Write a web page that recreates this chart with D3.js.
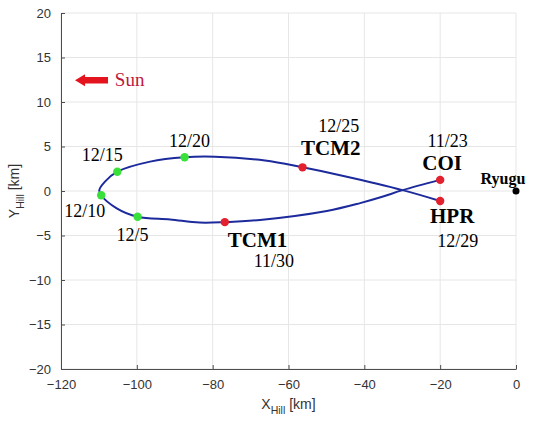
<!DOCTYPE html>
<html>
<head>
<meta charset="utf-8">
<script src="https://cdn.jsdelivr.net/npm/d3@7"></script>
<style>
  body { margin: 0; background: #fff; }
  .tick text { font-family: "Liberation Sans", Arial, sans-serif; font-size: 13px; fill: #333; }
  .ann { font-family: "Liberation Serif", "Times New Roman", serif; fill: #000; }
</style>
</head>
<body>
<svg id="chart"></svg>
<script>
// Trajectory in Hill frame (km), from COI around the loop to HPR
const trajX = [-20.0, -29.9, -35.5, -41.1, -49.9, -67.5, -76.8, -83.5, -91.2, -99.8, -105.3, -109.4, -109.9, -108.4, -105.15, -96.5, -87.4, -79.4, -66.2, -56.3, -45.5, -29.9, -20.0];
const trajY = [1.25, 0.1, -0.68, -1.36, -2.24, -3.25, -3.5, -3.55, -3.2, -2.9, -1.95, -0.48, 0.1, 1.05, 2.17, 3.3, 3.79, 3.85, 3.43, 2.66, 1.69, 0.1, -1.12];

// Maneuver points (red)
const manNames = ["COI", "TCM1", "TCM2", "HPR"];
const manDates = ["11/23", "11/30", "12/25", "12/29"];
const manX = [-20.0, -76.8, -56.3, -20.0];
const manY = [1.25, -3.5, 2.66, -1.12];

// Date markers (green)
const dayDates = ["12/5", "12/10", "12/15", "12/20"];
const dayX = [-99.8, -109.4, -105.15, -87.4];
const dayY = [-2.9, -0.48, 2.17, 3.79];

// Ryugu at origin
const ryuguX = 0, ryuguY = 0;

// Axis ticks
const xTicks = [-120, -100, -80, -60, -40, -20, 0];
const yTicks = [-20, -15, -10, -5, 0, 5, 10, 15, 20];

const W = 540, H = 430;
const margin = {top: 13, right: 24, bottom: 61, left: 61};
const width = W - margin.left - margin.right;
const height = H - margin.top - margin.bottom;

const svg = d3.select("#chart").attr("width", W).attr("height", H);
const g = svg.append("g").attr("transform", "translate(" + margin.left + "," + margin.top + ")");

const x = d3.scaleLinear().domain([-120, 0]).range([0, width]);
const y = d3.scaleLinear().domain([-20, 20]).range([height, 0]);

// Grid
g.append("g").selectAll("line").data(xTicks).enter().append("line")
  .attr("x1", d => x(d)).attr("x2", d => x(d))
  .attr("y1", 0).attr("y2", height)
  .attr("stroke", "#e6e6e6").attr("stroke-width", 1);
g.append("g").selectAll("line").data(yTicks).enter().append("line")
  .attr("x1", 0).attr("x2", width)
  .attr("y1", d => y(d)).attr("y2", d => y(d))
  .attr("stroke", "#e6e6e6").attr("stroke-width", 1);

// Axes (ticks pointing inward)
const xAxis = g.append("g")
  .attr("transform", "translate(0," + height + ")")
  .call(d3.axisBottom(x).tickValues(xTicks).tickSizeInner(-4).tickSizeOuter(0).tickPadding(11));
const yAxis = g.append("g")
  .call(d3.axisLeft(y).tickValues(yTicks).tickSizeInner(-4).tickSizeOuter(0).tickPadding(10));
[xAxis, yAxis].forEach(a => {
  a.select(".domain").attr("stroke", "#4d4d4d");
  a.selectAll(".tick line").attr("stroke", "#4d4d4d");
});

// Axis labels
const xl = svg.append("text")
  .attr("x", margin.left + width / 2).attr("y", 409)
  .attr("text-anchor", "middle")
  .attr("font-family", "Liberation Sans, Arial, sans-serif")
  .attr("font-size", 14).attr("fill", "#333");
xl.append("tspan").text("X");
xl.append("tspan").attr("font-size", 10.5).attr("dy", 5).text("Hill");
xl.append("tspan").attr("dy", -5).text(" [km]");

const yl = svg.append("text")
  .attr("transform", "translate(19," + (margin.top + height / 2) + ") rotate(-90)")
  .attr("text-anchor", "middle")
  .attr("font-family", "Liberation Sans, Arial, sans-serif")
  .attr("font-size", 14).attr("fill", "#333");
yl.append("tspan").text("Y");
yl.append("tspan").attr("font-size", 10.5).attr("dy", 5).text("Hill");
yl.append("tspan").attr("dy", -5).text(" [km]");

// Trajectory
const line = d3.line()
  .x((d, i) => x(trajX[i]))
  .y((d, i) => y(trajY[i]))
  .curve(d3.curveCatmullRom.alpha(0.5));
g.append("path")
  .attr("d", line(trajX))
  .attr("fill", "none")
  .attr("stroke", "#1c2a9c")
  .attr("stroke-width", 2);

// Green day markers
g.selectAll(".day").data(dayDates).enter().append("circle")
  .attr("class", "day")
  .attr("cx", (d, i) => x(dayX[i])).attr("cy", (d, i) => y(dayY[i]))
  .attr("r", 4.2).attr("fill", "#3ae03a");

// Red maneuver markers
g.selectAll(".man").data(manNames).enter().append("circle")
  .attr("class", "man")
  .attr("cx", (d, i) => x(manX[i])).attr("cy", (d, i) => y(manY[i]))
  .attr("r", 4.2).attr("fill", "#e3202e");

// Ryugu
g.append("circle").attr("cx", x(ryuguX)).attr("cy", y(ryuguY)).attr("r", 3.5).attr("fill", "#000");
g.append("text").attr("class", "ann")
  .attr("x", x(ryuguX) - 13).attr("y", y(ryuguY) - 7.5)
  .attr("text-anchor", "middle").attr("font-weight", "bold").attr("font-size", 16)
  .text("Ryugu");

// Label offsets (px) from each marker
const dayOff = [[-5, 24], [-16.5, 22], [-15, -11], [5, -10.5]];
g.selectAll(".dayLbl").data(dayDates).enter().append("text")
  .attr("class", "ann")
  .attr("x", (d, i) => x(dayX[i]) + dayOff[i][0])
  .attr("y", (d, i) => y(dayY[i]) + dayOff[i][1])
  .attr("text-anchor", "middle").attr("font-size", 18)
  .text(d => d);

const nameOff = [[2, -9.5], [32.7, 25], [28.3, -12], [12, 22]];
const dateOff = [[7.5, -32.5], [49, 45], [36.3, -35], [17.5, 46]];
g.selectAll(".manLbl").data(manNames).enter().append("text")
  .attr("class", "ann")
  .attr("x", (d, i) => x(manX[i]) + nameOff[i][0])
  .attr("y", (d, i) => y(manY[i]) + nameOff[i][1])
  .attr("text-anchor", "middle").attr("font-size", 21).attr("font-weight", "bold")
  .text(d => d);
g.selectAll(".manDate").data(manDates).enter().append("text")
  .attr("class", "ann")
  .attr("x", (d, i) => x(manX[i]) + dateOff[i][0])
  .attr("y", (d, i) => y(manY[i]) + dateOff[i][1])
  .attr("text-anchor", "middle").attr("font-size", 18)
  .text(d => d);

// Sun direction arrow
const ax0 = x(-116.3), ax1 = x(-107.6), ay = y(12.45);
g.append("path")
  .attr("d", "M" + ax0 + "," + ay +
    " L" + (ax0 + 10) + "," + (ay - 6) +
    " L" + (ax0 + 10) + "," + (ay - 3.2) +
    " L" + ax1 + "," + (ay - 3.2) +
    " L" + ax1 + "," + (ay + 3.2) +
    " L" + (ax0 + 10) + "," + (ay + 3.2) +
    " L" + (ax0 + 10) + "," + (ay + 6) + " Z")
  .attr("fill", "#e3141e");
g.append("text").attr("class", "ann")
  .attr("x", x(-105.8)).attr("y", ay + 6)
  .attr("font-size", 19).style("fill", "#c0163c")
  .text("Sun");
</script>
</body>
</html>
